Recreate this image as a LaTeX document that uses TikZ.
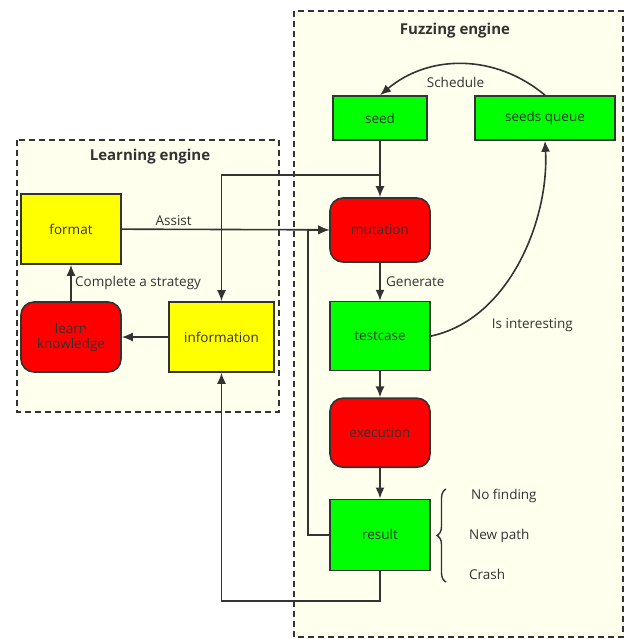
\documentclass[tikz,border=0pt]{standalone}
\usepackage{fontspec}
\setmainfont{Open Sans}
\usetikzlibrary{positioning, arrows.meta, decorations.pathreplacing}
\definecolor{ink}{HTML}{333333}
\definecolor{panel}{HTML}{FFFFEE}
\definecolor{leaf}{HTML}{00FF00}
\definecolor{alert}{HTML}{FF0000}
\definecolor{note}{HTML}{FFFF00}

\tikzset{
    box/.style={draw, rectangle, line width=1.6pt, minimum width=100pt, minimum height=70pt},
    softbox/.style={box, rounded corners=13pt, minimum height=64pt},
    engine/.style={draw, dashed, dash pattern=on 6pt off 4pt, line width=1.5pt, fill=panel},
    title/.style={font=\bfseries\fontsize{15}{17}\selectfont},
}

\begin{document}
\begin{tikzpicture}[x=1pt, y=-1pt, color=ink, line width=1.6pt, font=\fontsize{13.5}{16}\selectfont, -{Latex[length=11pt, width=9pt]}]
        \useasboundingbox (0,0) rectangle (632,639);

        % engines
        \draw[-, engine] (294,11) rectangle (623,637);
        \draw[-, engine] (17,140) rectangle (279,412);
        \node[title] (fuzztitle) at (455,31) {Fuzzing engine};
        \node[title] (learntitle) at (150,157) {Learning engine};

        % fuzzing side
        \node[box, fill=leaf, minimum width=94pt, minimum height=44pt] (seed) at (380,118) {seed};
        \node[box, fill=leaf, minimum width=140pt, minimum height=44pt] (queue) at (545,118) {seeds queue};
        \node[softbox, fill=alert] (mutation) at (380,230) {mutation};
        \node[box, fill=leaf, minimum height=69pt] (testcase) [below=38pt of mutation] {testcase};
        \node[softbox, fill=alert, minimum height=69pt] (execution) [below=26pt of testcase] {execution};
        \node[box, fill=leaf, minimum height=71pt] (result) [below=30.5pt of execution] {result};

        % learning side
        \node[box, fill=note] (format) at (71,229) {format};
        \node[softbox, fill=alert, minimum height=70pt, align=center] (learn) at (71,337) {learn\\[-1pt]knowledge};
        \node[box, fill=note, minimum width=105pt] (information) at (221.5,337) {information};

        \coordinate (split) at (380,175);

        \path (seed) edge (mutation);
        \draw (split) -| (information);
        \draw (format) -- node[above, pos=0.25] {Assist} (mutation);
        \draw (result.west) -- ++(-21,0) |- (mutation.west);
        \path (mutation) edge node[right=2pt] {Generate} (testcase);
        \path (testcase) edge (execution);
        \path (execution) edge (result);
        \draw (testcase.east) to[out=12, in=-87, looseness=0.9] node[pos=0, anchor=west, xshift=57pt, yshift=11pt] {Is interesting} (queue.south);
        \draw (queue.north) to[bend right=40] node[below=9pt, xshift=-7pt] {Schedule} (seed.north);
        \draw (result.south) -- ++(0,30) -| (information.south);
        \path (information) edge (learn);
        \path (learn) edge node[right] {Complete a strategy} (format);

        % outcomes
        \draw[-, line width=1.4pt, decorate, decoration={brace, amplitude=9pt}] (446,582) -- (446,489);
        \node[anchor=west] (nofind) at (467,496) {No finding};
        \node[anchor=west] (newpath) at (465,536) {New path};
        \node[anchor=west] (crash) at (465,574) {Crash};
    \end{tikzpicture}
\end{document}
